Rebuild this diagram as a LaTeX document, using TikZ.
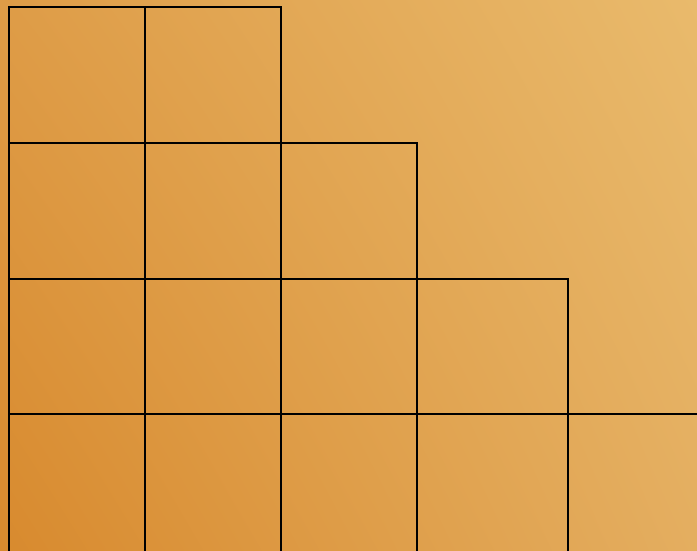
\documentclass[tikz,border=0pt]{standalone}
\usetikzlibrary{shadings}
\definecolor{cLL}{HTML}{D88A2E}
\definecolor{cUL}{HTML}{DE9C47}
\definecolor{cLR}{HTML}{E4AE60}
\definecolor{cUR}{HTML}{E9BA6C}
\begin{document}
\begin{tikzpicture}[x=1pt,y=1pt,gridline/.style={line width=1.5pt,black,line cap=rect}]
\useasboundingbox (0,0) rectangle (697,550);
\shade[lower left=cLL,upper left=cUL,lower right=cLR,upper right=cUR] (0,0) rectangle (697,550);
% horizontal lines
\draw[gridline] (9,543) -- (281,543);
\draw[gridline] (9,407) -- (417,407);
\draw[gridline] (9,271) -- (568,271);
\draw[gridline] (9,136) -- (697,136);
% vertical lines
\draw[gridline] (9,0) -- (9,543);
\draw[gridline] (145,0) -- (145,543);
\draw[gridline] (281,0) -- (281,543);
\draw[gridline] (417,0) -- (417,407);
\draw[gridline] (568,0) -- (568,271);
\end{tikzpicture}
\end{document}
